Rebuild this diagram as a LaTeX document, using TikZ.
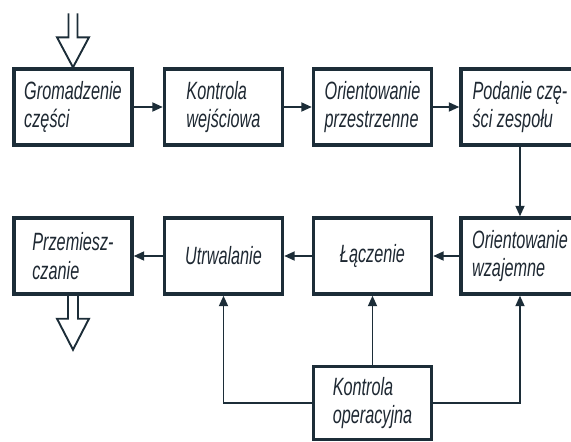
\documentclass[tikz,border=0pt]{standalone}
\usepackage{fontspec}
\setmainfont{Liberation Sans}[FakeStretch=0.65]
\usetikzlibrary{arrows.meta,calc}
\definecolor{ink}{RGB}{28,45,56}
\definecolor{txt}{RGB}{30,40,50}
\begin{document}
\begin{tikzpicture}[x=1pt,y=-1pt,
  box/.style={draw=ink, line width=3.4pt, minimum width=118pt, minimum height=76pt,
    inner sep=0pt, align=left, text=txt, font=\fontsize{25}{28.5}\selectfont\itshape},
  conn/.style={draw=ink, line width=1.8pt, -{Triangle[length=10.5pt,width=9pt]}},
  hollow/.style={draw=ink, line width=1.9pt, line join=miter}]
\useasboundingbox (0,0) rectangle (571,442);
\clip (0,0) rectangle (571,442);
% row 1
\node[box] (g) at (73,107) {Gromadzenie\\części};
\node[box] (k) at (223.5,107) {Kontrola\\wejściowa};
\node[box] (o) at (372.5,107) {Orientowanie\\przestrzenne};
\node[box] (p) at (520,107) {Podanie czę-\\ści zespołu};
% row 2
\node[box] (pr) at (73,256) {Przemiesz-\\czanie};
\node[box] (u) at (223.5,256) {Utrwalanie};
\node[box] (l) at (372.5,256) {Łączenie};
\node[box] (ow) at (520,256) {Orientowanie\\wzajemne};
% bottom
\node[box, minimum height=73pt] (ko) at (372.5,403) {Kontrola\\operacyjna};
% connectors
\draw[conn] (g) -- (k);
\draw[conn] (k) -- (o);
\draw[conn] (o) -- (p);
\draw[conn] (p) -- (ow);
\draw[conn] (ow) -- (l);
\draw[conn] (l) -- (u);
\draw[conn] (u) -- (pr);
\draw[conn] (ko) -- (l);
\draw[conn] (ko.west) -| (u.south);
\draw[conn] (ko.east) -| (ow.south);
% hollow input arrow
\coordinate (inA) at ($(g.north)+(-4.5,-54)$);
\coordinate (inB) at ($(g.north)+(4.5,-54)$);
\draw[hollow] (inA) -- ++(0,24) -- ++(-11.5,0) -- (g.north) -- ($(inB)+(11.5,24)$) -- ($(inB)+(0,24)$) -- (inB);
% hollow output arrow
\coordinate (outA) at ($(pr.south)+(-5,0)$);
\coordinate (outB) at ($(pr.south)+(5,0)$);
\coordinate (outT) at ($(pr.south)+(0,54)$);
\draw[hollow] (outA) -- ++(0,23) -- ++(-11,0) -- (outT) -- ($(outB)+(11,23)$) -- ($(outB)+(0,23)$) -- (outB);
\end{tikzpicture}
\end{document}
